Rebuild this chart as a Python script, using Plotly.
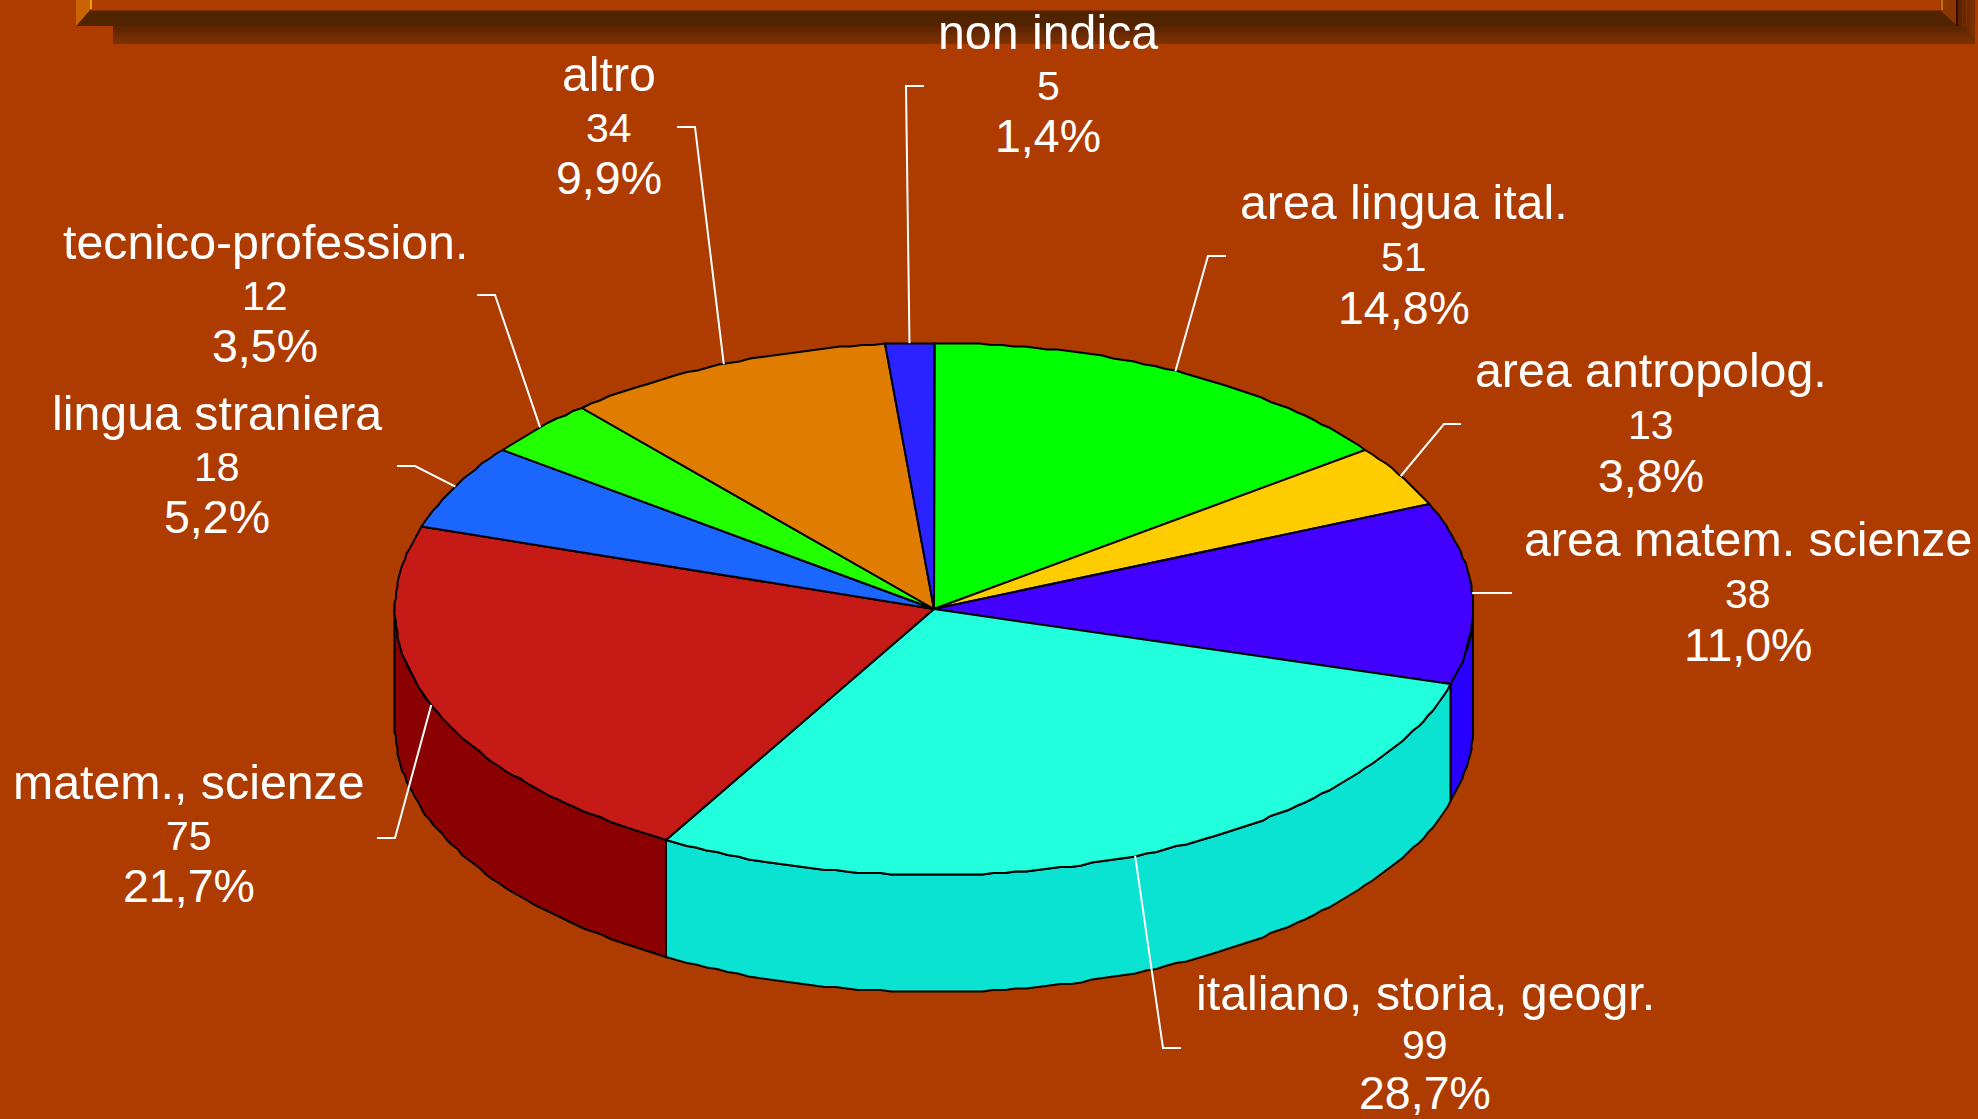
import numpy as np
import plotly.graph_objects as go

# ---- data ----
categories = ["area lingua ital.", "area antropolog.", "area matem. scienze",
              "italiano, storia, geogr.", "matem., scienze", "lingua straniera",
              "tecnico-profession.", "altro", "non indica"]
values = [51, 13, 38, 99, 75, 18, 12, 34, 5]
percent_labels = ["14,8%", "3,8%", "11,0%", "28,7%", "21,7%", "5,2%", "3,5%", "9,9%", "1,4%"]

# ---- styles ----
top_colors = ["#00FF00", "#FFCC00", "#4200FF", "#22FFDD", "#C61A17",
              "#1A66FF", "#22FF00", "#E07C00", "#2A22FF"]
side_colors = ["#00C800", "#C8A000", "#2800FF", "#0AE3D2", "#8B0000",
               "#1048C0", "#18C000", "#B06000", "#2018C0"]
BG = "#AE3C00"

# ---- layout (pixels) ----
W, H = 1978, 1119
CX, CY, RX, RY, DEPTH = 934, 609, 539, 266, 117
label_x = [1404, 1651, 1748, 1425, 189, 217, 265, 609, 1048]
label_y = [202, 370, 539, 993, 782, 413, 242, 74, 32]
line_gap = [53, 53, 53, 50, 52, 52, 52, 52, 52]
# elbow of each leader and end of its short horizontal tail
elbow = [(1208, 256), (1444, 424), (1474, 593), (1163, 1048), (395, 838),
         (415, 466), (495, 295), (695, 127), (906, 86)]
tail = [(1226, 256), (1461, 424), (1512, 593), (1181, 1048), (377, 838),
        (397, 466), (477, 295), (677, 127), (924, 86)]


def proj(deg, dz=0.0):
    """Clockwise angle from 12 o'clock to page pixels, snapped to a small grid."""
    t = np.radians(deg)
    x = CX + RX * np.sin(t)
    y = CY - RY * np.cos(t) + dz
    return np.round(x / 1.5) * 1.5, np.round(y / 1.5) * 1.5


def arc(a, b, dz=0.0):
    n = max(2, int(abs(b - a) / 1.2) + 1)
    return proj(np.linspace(a, b, n), dz)


total = sum(values)
cum = np.cumsum([0] + values) / total * 360.0
fig = go.Figure()
common = dict(mode="lines", hoverinfo="skip", showlegend=False)

# side walls (only the front half of the disc is visible)
for i in range(len(values)):
    a, b = max(cum[i], 90.0), min(cum[i + 1], 270.0)
    if a >= b:
        continue
    xt, yt = arc(a, b)
    xb, yb = arc(b, a, DEPTH)
    fig.add_trace(go.Scatter(
        x=np.r_[xt, xb, xt[0]], y=np.r_[yt, yb, yt[0]], fill="toself",
        fillcolor=side_colors[i], line=dict(color="black", width=2), **common))

# top faces
for i in range(len(values)):
    xa, ya = arc(cum[i], cum[i + 1])
    fig.add_trace(go.Scatter(
        x=np.r_[CX, xa, CX], y=np.r_[CY, ya, CY], fill="toself",
        fillcolor=top_colors[i], line=dict(color="black", width=2), **common))

# leader lines, starting on the rim at each slice's middle angle
for i in range(len(values)):
    mid = np.radians((cum[i] + cum[i + 1]) / 2)
    sx, sy = CX + RX * np.sin(mid), CY - RY * np.cos(mid)
    fig.add_trace(go.Scatter(
        x=[sx, elbow[i][0], tail[i][0]], y=[sy, elbow[i][1], tail[i][1]],
        line=dict(color="white", width=2), **common))

# labels
FONT = "Liberation Sans, Arial, sans-serif"
ann = []
for i, name in enumerate(categories):
    lines = [(name, 48.3, 0), (str(values[i]), 41, line_gap[i] + 2), (percent_labels[i], 46.5, 2 * line_gap[i])]
    for txt, size, dy in lines:
        ann.append(dict(x=label_x[i], y=label_y[i] + dy, text=txt, showarrow=False,
                        xref="x", yref="y", xanchor="center", yanchor="middle",
                        font=dict(family=FONT, size=size, color="white")))

# picture frame cut off at the top edge of the slide
shapes = []
def poly(path, color):
    shapes.append(dict(type="path", path=path, fillcolor=color, line=dict(width=0), layer="below"))

shadow = ["#5C2400", "#622600", "#682A00", "#6E2C00", "#742E00", "#7A3000"]
for j, c in enumerate(shadow):
    y0 = 26 + j * 3
    poly(f"M113,{y0} L1975,{y0} L1975,{y0 + 3} L113,{y0 + 3} Z", c)
for j, c in enumerate(["#5C2400", "#662800", "#702C00", "#7A3000"]):
    x0 = 1958 + j * 17 / 4
    poly(f"M{x0},0 L{x0 + 17 / 4},0 L{x0 + 17 / 4},{26 + j * 4} L{x0},{26 + j * 4} Z", c)
poly("M76,26 L1958,26 L1940,10 L90,10 Z", "#512400")
poly("M90,10 L1940,10 L1940,11 L90,11 Z", "#7E3000")
poly("M76,0 L90,0 L90,10 L76,26 Z", "#C96400")
poly("M90,0 L92,0 L92,9 L90,9 Z", "#F0A000")
poly("M1940,0 L1958,0 L1958,26 L1940,10 Z", "#8A3600")
poly("M1941,0 L1943,0 L1943,10 L1941,10 Z", "#D07000")
poly("M1956,0 L1958,0 L1958,26 L1956,26 Z", "#3A0A00")

fig.update_layout(
    width=W, height=H, margin=dict(l=0, r=0, t=0, b=0),
    paper_bgcolor=BG, plot_bgcolor=BG, showlegend=False,
    xaxis=dict(range=[0, W], visible=False, fixedrange=True),
    yaxis=dict(range=[H, 0], visible=False, fixedrange=True),
    annotations=ann, shapes=shapes)

fig.write_html("out.html", config=dict(displayModeBar=False),
               post_script="document.body.style.margin='0';document.body.style.overflow='hidden';")
